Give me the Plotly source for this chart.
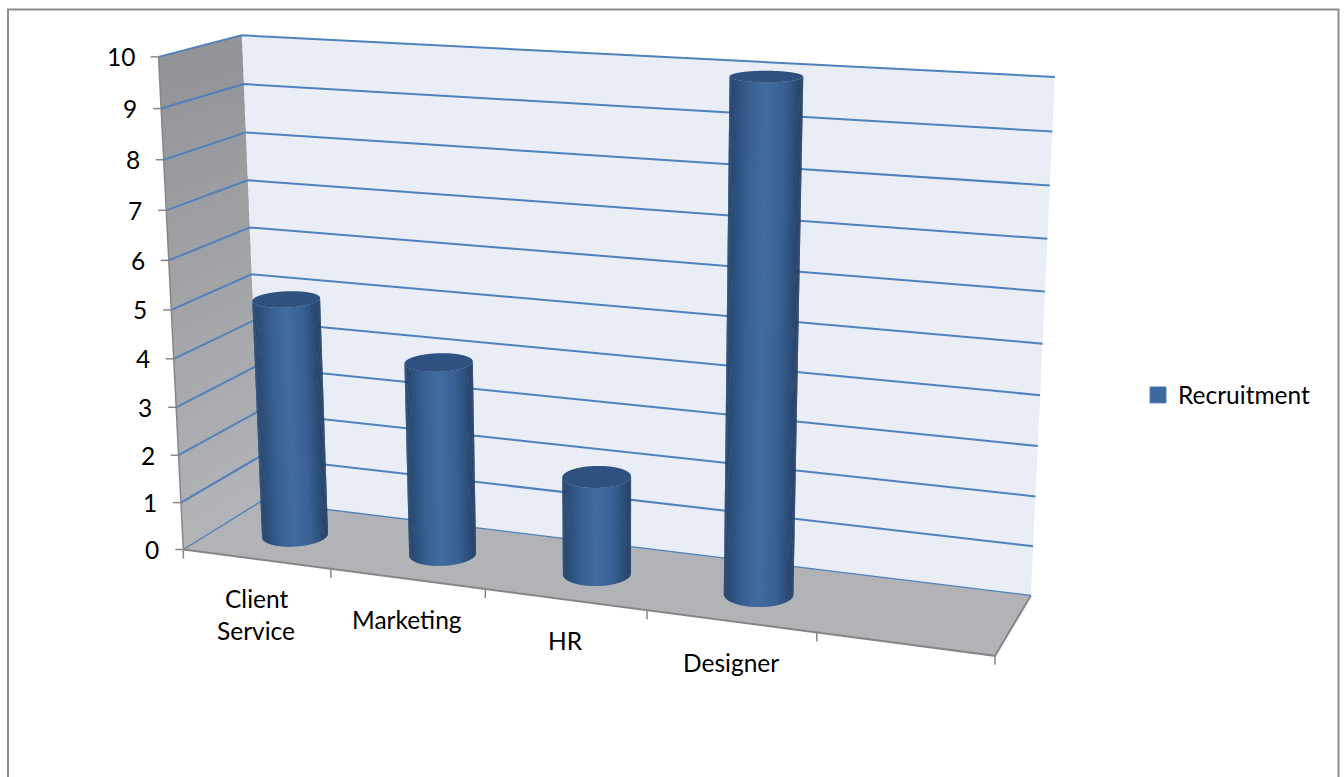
import numpy as np
import plotly.graph_objects as go

# Chart data
categories = ["Client Service", "Marketing", "HR", "Designer"]
recruitment = [5, 4, 2, 10]
value_ticks = list(range(0, 11))
series_name = "Recruitment"

# Chart box extents: category slots across, unit depth, value axis upwards
SLOTS = 5
DEPTH = 1.0
ZMAX = 10

# Cylinder footprint in box units
RADIUS_X = 0.2
RADIUS_Y = 0.215
CENTER_X = 0.517
CENTER_Y = 0.475

WIDTH, HEIGHT = 1344, 777
FONT = "Lato"
FONT_SIZE = 24.5

# Anchors of the oblique view: box coordinates -> page position
VIEW_ANCHORS = [
    ((0, 0, 0), (183.3, 549.3)),
    ((5, 0, 0), (995.0, 656.0)),
    ((5, 1, 0), (1030.7, 595.0)),
    ((0, 1, 0), (261.0, 502.0)),
    ((0, 0, 10), (158.3, 57.5)),
    ((0, 1, 10), (241.7, 35.0)),
    ((5, 1, 10), (1055.0, 77.0)),
    ((1, 0, 0), (331.0, 569.0)),
    ((2, 0, 0), (485.0, 589.0)),
    ((3, 0, 0), (647.0, 610.0)),
    ((4, 0, 0), (817.0, 633.0)),
    ((0, 0, 5), (171.5, 309.0)),
]


def solve_view(anchors):
    """Direct linear transform for the 3x4 projection matrix."""
    rows = []
    for (x, y, z), (u, v) in anchors:
        u, v = u / 1000.0, v / 1000.0
        rows.append([x, y, z, 1, 0, 0, 0, 0, -u * x, -u * y, -u * z, -u])
        rows.append([0, 0, 0, 0, x, y, z, 1, -v * x, -v * y, -v * z, -v])
    _, _, vt = np.linalg.svd(np.array(rows, dtype=float))
    return vt[-1].reshape(3, 4)


VIEW = solve_view(VIEW_ANCHORS)
_, _, _vt = np.linalg.svd(VIEW)
EYE = _vt[-1][:3] / _vt[-1][3]


def project(x, y, z):
    x, y, z = np.broadcast_arrays(np.asarray(x, float), np.asarray(y, float), np.asarray(z, float))
    pts = np.stack([x, y, z, np.ones_like(x)])
    u, v, w = VIEW @ pts.reshape(4, -1)
    return (u / w * 1000.0).reshape(x.shape), (v / w * 1000.0).reshape(x.shape)


def blend(stops, t):
    """Piecewise-linear colour ramp; stops are (position, (r, g, b))."""
    pos = [s[0] for s in stops]
    rgb = [np.interp(t, pos, [s[1][i] for s in stops]) for i in range(3)]
    return "rgb(%d,%d,%d)" % tuple(int(round(c)) for c in rgb)


fig = go.Figure()


def face(x, y, z, color):
    px, py = project(x, y, z)
    fig.add_trace(go.Scatter(
        x=px, y=py, mode="lines", fill="toself", fillcolor=color,
        line=dict(width=0, simplify=False), hoverinfo="skip", showlegend=False,
    ))


def edge(x, y, z, color, width):
    px, py = project(x, y, z)
    fig.add_trace(go.Scatter(
        x=px, y=py, mode="lines", line=dict(color=color, width=width),
        hoverinfo="skip", showlegend=False,
    ))


BLUE_GRID = "#4f81bd"
AXIS_GREY = "#868686"

# Back wall and floor
face([0, SLOTS, SLOTS, 0], [DEPTH] * 4, [0, 0, ZMAX, ZMAX], "#e8edf6")
face([0, SLOTS, SLOTS, 0], [0, 0, DEPTH, DEPTH], [0] * 4, "#b1b3b6")

# Side wall, darkening towards the top: each band slightly overlaps the next
WALL_STOPS = [(0.0, (178, 180, 183)), (1.0, (145, 147, 150))]
wall_steps = np.linspace(0, ZMAX, 41)
for lo, hi in zip(wall_steps[:-1], wall_steps[1:]):
    top = min(hi + 0.1, ZMAX)
    face([0, 0, 0, 0], [0, DEPTH, DEPTH, 0], [lo, lo, top, top], blend(WALL_STOPS, lo / ZMAX))

# Gridlines across the side wall and the back wall
for tick in value_ticks:
    edge([0, 0, SLOTS], [0, DEPTH, DEPTH], [tick] * 3, BLUE_GRID, 2.0 if tick else 1.4)

# Axis lines along the front of the box
edge([0, 0], [0, 0], [0, ZMAX], AXIS_GREY, 1.5)
edge([0, SLOTS, SLOTS], [0, 0, DEPTH], [0, 0, 0], AXIS_GREY, 2.0)

# Tick marks
for tick in value_ticks:
    px, py = project(0, 0, tick)
    fig.add_trace(go.Scatter(x=[px - 8, px], y=[py, py], mode="lines",
                             line=dict(color=AXIS_GREY, width=1.5),
                             hoverinfo="skip", showlegend=False))
for slot in range(SLOTS + 1):
    px, py = project(slot, 0, 0)
    fig.add_trace(go.Scatter(x=[px, px], y=[py, py + 9], mode="lines",
                             line=dict(color=AXIS_GREY, width=1.5),
                             hoverinfo="skip", showlegend=False))

# Cylinders: shade runs left to right across the visible wall
SIDE_STOPS = [
    (0.00, (38, 68, 108)),
    (0.10, (45, 80, 124)),
    (0.28, (58, 98, 148)),
    (0.48, (66, 108, 160)),
    (0.72, (58, 97, 147)),
    (0.88, (44, 78, 122)),
    (1.00, (35, 62, 100)),
]
CAP_COLOR = "#2e5180"
angles = np.linspace(0, 2 * np.pi, 361)[:-1]


def cylinder(slot_center, value):
    cx = slot_center + RADIUS_X * np.cos(angles)
    cy = CENTER_Y + RADIUS_Y * np.sin(angles)
    # Keep the arc of the wall that faces the viewer, ordered left to right on the page
    nx, ny = np.cos(angles) / RADIUS_X, np.sin(angles) / RADIUS_Y
    facing = nx * (EYE[0] - cx) + ny * (EYE[1] - cy) > 0
    start = next(i for i in range(len(angles)) if facing[i] and not facing[i - 1])
    arc = [(start + k) % len(angles) for k in range(int(facing.sum()))]
    ax, ay = cx[arc], cy[arc]
    sx, _ = project(ax, ay, 0 * ax)
    if sx[0] > sx[-1]:
        ax, ay, sx = ax[::-1], ay[::-1], sx[::-1]
    left, right = sx.min(), sx.max()
    # Each band reaches a little under the next one, which hides the seam
    for k in range(0, len(ax) - 1, 3):
        end = min(k + 6, len(ax))
        bx = np.concatenate([ax[k:end], ax[k:end][::-1]])
        by = np.concatenate([ay[k:end], ay[k:end][::-1]])
        bz = np.concatenate([np.zeros(end - k), np.full(end - k, value)])
        face(bx, by, bz, blend(SIDE_STOPS, (sx[k] - left) / (right - left)))
    face(cx, cy, np.full_like(cx, value), CAP_COLOR)


for i, val in enumerate(recruitment):
    cylinder(i + CENTER_X, val)

# Legend entry
fig.add_trace(go.Scatter(
    x=[None], y=[None], mode="markers", name=series_name,
    marker=dict(symbol="square", size=16, color="#3c679f", line=dict(color="#4f81bd", width=1)),
    hoverinfo="skip", showlegend=True,
))

# Text labels
annotations = []
for tick in value_ticks:
    px, py = project(0, 0, tick)
    annotations.append(dict(x=float(px), y=float(py), text=str(tick), showarrow=False,
                            xanchor="right", yanchor="middle", xshift=-22))
LINE_STEP = 32
for i, name in enumerate(categories):
    px, py = project(i + 0.5, 0, 0)
    words = name.split(" ")
    first_line = 41 if len(words) == 1 else 39
    for row, word in enumerate(words):
        annotations.append(dict(x=float(px), y=float(py), text=word, showarrow=False,
                                xanchor="center", yanchor="middle",
                                yshift=-(first_line + row * LINE_STEP)))

fig.update_layout(
    width=WIDTH, height=HEIGHT, autosize=False,
    margin=dict(l=0, r=0, t=0, b=0, pad=0),
    paper_bgcolor="white", plot_bgcolor="white",
    font=dict(family=FONT, size=FONT_SIZE, color="black"),
    xaxis=dict(range=[0, WIDTH], visible=False, fixedrange=True),
    yaxis=dict(range=[HEIGHT, 0], visible=False, fixedrange=True),
    legend=dict(x=1138 / WIDTH, y=1 - 395 / HEIGHT, xanchor="left", yanchor="middle",
                bgcolor="rgba(0,0,0,0)", font=dict(family=FONT, size=FONT_SIZE)),
    annotations=annotations,
    shapes=[dict(type="rect", xref="paper", yref="paper",
                 x0=8 / WIDTH, x1=1338.5 / WIDTH, y0=-0.02, y1=1 - 9.5 / HEIGHT,
                 line=dict(color="#8c8c8c", width=2), fillcolor="rgba(0,0,0,0)", layer="above")],
)

fig.write_html("out.html", config=dict(displayModeBar=False, responsive=False))
